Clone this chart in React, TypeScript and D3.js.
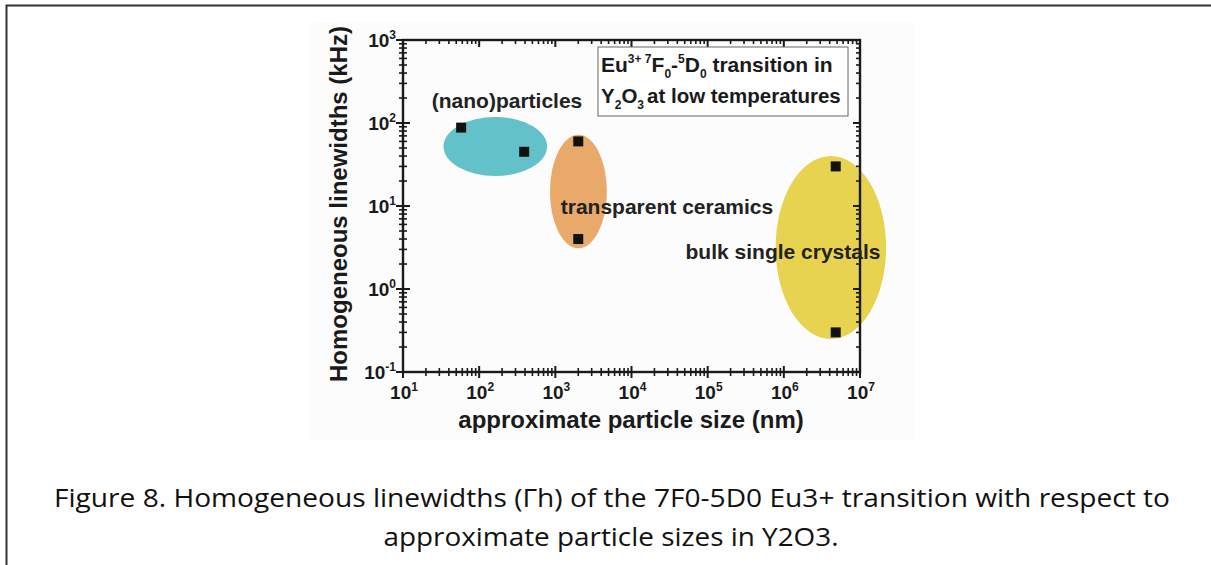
import { useEffect, useRef } from 'react'
import * as d3 from 'd3'

// particle size (nm) vs homogeneous linewidth (kHz)
const nanoSize = [58, 390]
const nanoWidth = [88, 45]
const ceramicSize = [2000, 2000]
const ceramicWidth = [60, 4]
const bulkSize = [4.8e6, 4.8e6]
const bulkWidth = [30, 0.3]

// groups: bounding box in data units [xMin, xMax, yMin, yMax]
const groupNames = ['(nano)particles', 'transparent ceramics', 'bulk single crystals']
const groupColors = ['#63c1c9', '#e9a96b', '#e7d34f']
const groupBoxes = [
  [34, 780, 23, 118],
  [850, 4750, 3.1, 72],
  [7.8e5, 2.2e7, 0.25, 40],
]

const xDecades = [1, 2, 3, 4, 5, 6, 7]
const yDecades = [-1, 0, 1, 2, 3]

const W = 1211
const H = 565

export default function App() {
  const ref = useRef<SVGSVGElement>(null)

  useEffect(() => {
    if (!ref.current) return
    const svg = d3.select(ref.current)
    svg.selectAll('*').remove()

    const x = d3.scaleLog().domain([10, 1e7]).range([403, 860])
    const y = d3.scaleLog().domain([0.1, 1000]).range([372, 40])
    const ink = '#1a1a1a'

    // page frame
    svg.append('rect').attr('width', W).attr('height', H).attr('fill', '#fff')
    svg.append('path')
      .attr('d', `M6.5,${H} V5.5 H${W}`)
      .attr('fill', 'none').attr('stroke', '#333').attr('stroke-width', 2)

    // pasted figure background
    svg.append('rect')
      .attr('x', 310).attr('y', 22).attr('width', 605).attr('height', 418)
      .attr('fill', '#fcfcfc')

    // group ellipses
    groupBoxes.forEach((b, i) => {
      const x0 = x(b[0]), x1 = x(b[1]), y0 = y(b[2]), y1 = y(b[3])
      svg.append('ellipse')
        .attr('cx', (x0 + x1) / 2).attr('cy', (y0 + y1) / 2)
        .attr('rx', (x1 - x0) / 2).attr('ry', (y0 - y1) / 2)
        .attr('fill', groupColors[i])
    })

    // axes frame
    const [xl, xr] = x.range()
    const [yb, yt] = y.range()
    const axes = svg.append('g').attr('stroke', ink).attr('stroke-width', 2.4).attr('fill', 'none')
    axes.append('rect').attr('x', xl).attr('y', yt).attr('width', xr - xl).attr('height', yb - yt)

    const xTicks = x.ticks()
    const yTicks = y.ticks()
    const isMajor = (v: number) => Math.abs(Math.log10(v) - Math.round(Math.log10(v))) < 1e-6

    // bottom (crossing) and top (inward)
    xTicks.forEach(v => {
      const px = x(v)
      const m = isMajor(v)
      axes.append('line').attr('x1', px).attr('x2', px)
        .attr('y1', yb - (m ? 6 : 4)).attr('y2', yb + (m ? 6 : 4))
        .attr('stroke-width', m ? 2 : 1.6)
      axes.append('line').attr('x1', px).attr('x2', px)
        .attr('y1', yt).attr('y2', yt + (m ? 7 : 4))
        .attr('stroke-width', m ? 2 : 1.6)
    })
    // left (crossing) and right (inward)
    yTicks.forEach(v => {
      const py = y(v)
      const m = isMajor(v)
      axes.append('line').attr('y1', py).attr('y2', py)
        .attr('x1', xl - (m ? 7 : 4)).attr('x2', xl + (m ? 7 : 4))
        .attr('stroke-width', m ? 2 : 1.6)
      axes.append('line').attr('y1', py).attr('y2', py)
        .attr('x1', xr).attr('x2', xr - (m ? 7 : 4))
        .attr('stroke-width', m ? 2 : 1.6)
    })

    const font = '"Liberation Sans", Arial, sans-serif'

    // tick labels
    xDecades.forEach(d => {
      const t = svg.append('text')
        .attr('x', x(Math.pow(10, d)) + 1).attr('y', 399)
        .attr('text-anchor', 'middle').attr('font-family', font)
        .attr('font-weight', 'bold').attr('font-size', 19).attr('fill', ink)
      t.append('tspan').text('10')
      t.append('tspan').attr('font-size', 12).attr('dy', -8).text(String(d))
    })
    yDecades.forEach(d => {
      const t = svg.append('text')
        .attr('x', 396).attr('y', y(Math.pow(10, d)) + 7)
        .attr('text-anchor', 'end').attr('font-family', font)
        .attr('font-weight', 'bold').attr('font-size', 19).attr('fill', ink)
      t.append('tspan').text('10')
      t.append('tspan').attr('font-size', 12).attr('dy', -8).text(String(d))
    })

    // axis titles
    svg.append('text')
      .attr('x', 631).attr('y', 428)
      .attr('text-anchor', 'middle').attr('font-family', font)
      .attr('font-weight', 'bold').attr('font-size', 24).attr('fill', ink)
      .text('approximate particle size (nm)')
    svg.append('text')
      .attr('transform', `translate(347,${(yb + yt) / 2 - 2}) rotate(-90)`)
      .attr('text-anchor', 'middle').attr('font-family', font)
      .attr('font-weight', 'bold').attr('font-size', 24).attr('fill', ink)
      .text('Homogeneous linewidths (kHz)')

    // legend box
    svg.append('rect')
      .attr('x', 598).attr('y', 47).attr('width', 250).attr('height', 69)
      .attr('fill', '#fff').attr('stroke', '#666').attr('stroke-width', 1)
    const l1 = svg.append('text').attr('x', 601).attr('y', 72)
      .attr('font-family', font).attr('font-weight', 'bold').attr('font-size', 21).attr('fill', ink)
    l1.append('tspan').text('Eu')
    l1.append('tspan').attr('font-size', 12).attr('dy', -9).text('3+ 7')
    l1.append('tspan').attr('dy', 9).text('F')
    l1.append('tspan').attr('font-size', 12).attr('dy', 6).text('0')
    l1.append('tspan').attr('dy', -6).text('-')
    l1.append('tspan').attr('font-size', 12).attr('dy', -9).text('5')
    l1.append('tspan').attr('dy', 9).text('D')
    l1.append('tspan').attr('font-size', 12).attr('dy', 6).text('0')
    l1.append('tspan').attr('dy', -6).text(' transition in')
    const l2 = svg.append('text').attr('x', 601).attr('y', 103)
      .attr('font-family', font).attr('font-weight', 'bold').attr('font-size', 20.5).attr('fill', ink)
    l2.append('tspan').text('Y')
    l2.append('tspan').attr('font-size', 12).attr('dy', 6).text('2')
    l2.append('tspan').attr('dy', -6).text('O')
    l2.append('tspan').attr('font-size', 12).attr('dy', 6).text('3')
    l2.append('tspan').attr('dy', -6).text('at low temperatures').attr('dx', 3)

    // data points
    const pts: [number, number][] = [
      ...nanoSize.map((s, i) => [s, nanoWidth[i]] as [number, number]),
      ...ceramicSize.map((s, i) => [s, ceramicWidth[i]] as [number, number]),
      ...bulkSize.map((s, i) => [s, bulkWidth[i]] as [number, number]),
    ]
    svg.selectAll('rect.pt').data(pts).enter().append('rect')
      .attr('class', 'pt')
      .attr('x', d => x(d[0]) - 5).attr('y', d => y(d[1]) - 5)
      .attr('width', 10).attr('height', 10).attr('fill', '#111')

    // group labels
    const labelPos: [number, number][] = [[507, 108], [667, 214], [783, 259]]
    groupNames.forEach((n, i) => {
      svg.append('text')
        .attr('x', labelPos[i][0]).attr('y', labelPos[i][1])
        .attr('text-anchor', 'middle').attr('font-family', font)
        .attr('font-weight', 'bold').attr('font-size', 21).attr('fill', '#222')
        .text(n)
    })

    // caption
    const cap = '"Open Sans", sans-serif'
    svg.append('text')
      .attr('x', 612).attr('y', 507).attr('text-anchor', 'middle')
      .attr('font-family', cap).attr('font-size', 25).attr('fill', '#111')
      .attr('textLength', 1116).attr('lengthAdjust', 'spacingAndGlyphs')
      .text('Figure 8. Homogeneous linewidths (Γh) of the 7F0-5D0 Eu3+ transition with respect to')
    svg.append('text')
      .attr('x', 611).attr('y', 546).attr('text-anchor', 'middle')
      .attr('font-family', cap).attr('font-size', 25).attr('fill', '#111')
      .attr('textLength', 455).attr('lengthAdjust', 'spacingAndGlyphs')
      .text('approximate particle sizes in Y2O3.')
  }, [])

  return (
    <svg ref={ref} width={W} height={H}
      style={{ display: 'block', position: 'absolute', left: 0, top: 0 }} />
  )
}
